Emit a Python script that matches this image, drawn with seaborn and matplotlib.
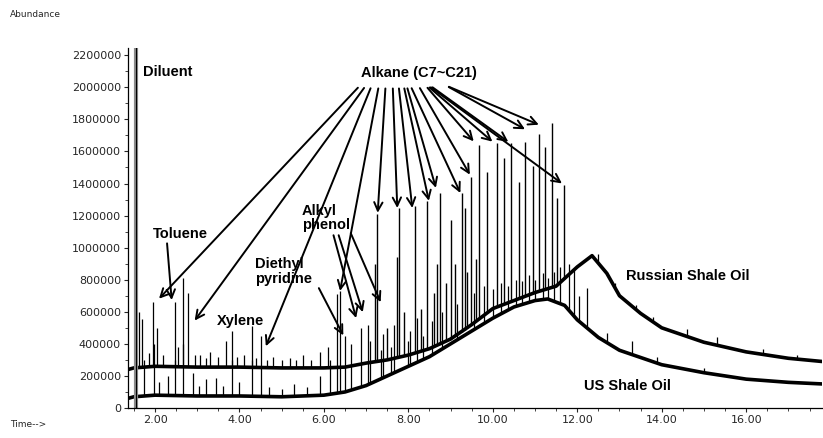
import numpy as np
import pandas as pd
import matplotlib
matplotlib.use("Agg")
import matplotlib.pyplot as plt
import seaborn as sns

# baselines (time in min, abundance)
russian_t = [1.36, 1.5, 2.0, 3.0, 4.0, 5.0, 6.0, 6.5, 7.0, 7.5, 8.0, 8.5, 9.0, 9.5, 10.0, 10.5,
             11.0, 11.5, 12.0, 12.35, 12.7, 13.0, 13.5, 14.0, 15.0, 16.0, 17.0, 17.8]
russian_v = [240000, 250000, 260000, 255000, 255000, 250000, 250000, 255000, 280000, 300000,
             330000, 370000, 430000, 520000, 620000, 670000, 720000, 760000, 880000, 950000,
             840000, 700000, 590000, 500000, 410000, 350000, 310000, 290000]

us_t = [1.36, 1.5, 2.0, 3.0, 4.0, 5.0, 6.0, 6.5, 7.0, 7.5, 8.0, 8.5, 9.0, 9.5, 10.0, 10.5,
        11.0, 11.3, 11.7, 12.0, 12.5, 13.0, 14.0, 15.0, 16.0, 17.0, 17.8]
us_v = [60000, 70000, 80000, 75000, 75000, 70000, 80000, 100000, 140000, 200000, 260000,
        320000, 400000, 480000, 560000, 630000, 670000, 680000, 640000, 550000, 440000,
        360000, 270000, 220000, 180000, 160000, 150000]

# peaks (retention time, apex abundance)
diluent_t = 1.55
diluent_v = 2300000

russian_peak_t = [1.63, 1.69, 1.85, 1.95, 2.05, 2.2, 2.47, 2.55, 2.66, 2.78, 2.95, 3.07, 3.2,
                  3.3, 3.5, 3.68, 3.82, 3.95, 4.1, 4.29, 4.4, 4.51, 4.65, 4.8, 5.0, 5.2, 5.35,
                  5.5, 5.7, 5.9, 6.1, 12.5, 12.9, 13.4, 13.8, 14.6, 15.3, 16.4, 17.2]
russian_peak_v = [600000, 556000, 340000, 660000, 500000, 330000, 660000, 380000, 810000,
                  720000, 330000, 330000, 310000, 350000, 320000, 420000, 480000, 320000,
                  330000, 510000, 310000, 450000, 300000, 320000, 300000, 310000, 300000,
                  330000, 300000, 350000, 380000, 960000, 780000, 640000, 570000, 490000,
                  440000, 370000, 330000]

us_peak_t = [1.75, 1.97, 2.1, 2.3, 2.47, 2.66, 2.9, 3.05, 3.2, 3.45, 3.6, 3.82, 4.0, 4.29,
             4.5, 4.7, 5.0, 5.3, 5.6, 5.9, 6.15, 6.3, 6.37, 6.5, 6.65, 6.89, 7.04, 7.35,
             7.6, 8.0, 8.35, 11.93, 12.05, 12.24, 12.7, 13.3, 13.9, 15.0]
us_peak_v = [300000, 400000, 160000, 200000, 300000, 400000, 220000, 140000, 180000, 190000,
             140000, 300000, 160000, 300000, 250000, 130000, 120000, 150000, 130000, 200000,
             300000, 710000, 730000, 450000, 400000, 500000, 520000, 360000, 380000, 420000,
             450000, 875000, 700000, 750000, 470000, 420000, 320000, 250000]

alkane_peak_t = [7.2, 7.25, 7.5, 7.74, 7.77, 7.9, 8.15, 8.3, 8.45, 8.6, 8.67, 8.74, 8.9, 9.02,
                 9.1, 9.26, 9.33, 9.4, 9.49, 9.6, 9.68, 9.87, 10.09, 10.27, 10.44, 10.61,
                 10.77, 10.94, 11.1, 11.24, 11.39, 11.53, 11.69]
alkane_peak_v = [900000, 1210000, 500000, 940000, 1250000, 600000, 1260000, 620000, 1290000,
                 720000, 900000, 1340000, 780000, 1170000, 900000, 1340000, 1250000, 850000,
                 1440000, 930000, 1640000, 1470000, 1650000, 1560000, 1650000, 1410000,
                 1660000, 1510000, 1710000, 1630000, 1780000, 1310000, 1390000]

# smaller spikes sitting on the hump
hump_peak_t = [7.1, 7.4, 7.65, 8.05, 8.2, 8.55, 8.8, 9.15, 9.55, 9.8, 10.0, 10.2, 10.35,
               10.55, 10.7, 10.85, 11.0, 11.18, 11.3, 11.45, 11.6, 11.8]
hump_peak_v = [420000, 460000, 520000, 480000, 560000, 540000, 600000, 650000, 720000,
               760000, 740000, 780000, 760000, 800000, 790000, 830000, 800000, 840000,
               810000, 850000, 880000, 900000]

# arrow tips and tails for the "Alkane (C7~C21)" label
alkane_tip_t = [2.05, 2.90, 4.60, 6.37, 7.27, 7.74, 8.10, 8.50, 8.67, 9.26, 9.49, 9.59, 10.04,
                10.42, 10.82, 11.15, 11.69]
alkane_tip_v = [669000, 531000, 369000, 713000, 1200000, 1230000, 1230000, 1275000, 1356000,
                1325000, 1440000, 1650000, 1650000, 1650000, 1730000, 1760000, 1390000]
alkane_tail_t = [6.85, 6.99, 7.13, 7.30, 7.46, 7.63, 7.77, 7.89, 7.96, 8.05, 8.24, 8.41, 8.45,
                 8.52, 8.90, 8.90, 8.48]
alkane_tail_v = 2010000

russian = pd.DataFrame({"Time": russian_t, "Abundance": russian_v})
us = pd.DataFrame({"Time": us_t, "Abundance": us_v})

sns.set_style("ticks")
plt.rcParams["font.family"] = ["DejaVu Sans"]

fig = plt.figure(figsize=(8.23, 4.38), dpi=100)
ax = fig.add_axes([0.1555, 0.0685, 0.8435, 0.8215])

sns.lineplot(data=russian, x="Time", y="Abundance", ax=ax, color="black", lw=2.6)
sns.lineplot(data=us, x="Time", y="Abundance", ax=ax, color="black", lw=2.6)

# peaks drawn as sticks standing on their own baseline
ax.vlines(russian_peak_t, np.interp(russian_peak_t, russian_t, russian_v), russian_peak_v,
          color="black", lw=0.9)
ax.vlines(us_peak_t, np.interp(us_peak_t, us_t, us_v), us_peak_v, color="black", lw=0.9)
ax.vlines(hump_peak_t, np.interp(hump_peak_t, us_t, us_v), hump_peak_v, color="black", lw=0.9)
ax.vlines(alkane_peak_t, np.interp(alkane_peak_t, russian_t, russian_v), alkane_peak_v,
          color="black", lw=1.0)
ax.vlines([diluent_t], [0], [diluent_v], color="0.55", lw=3)
ax.vlines([diluent_t], [0], [diluent_v], color="black", lw=0.8)

ax.set_xlim(1.36, 17.8)
ax.set_ylim(0, 2244000)
ax.set_xticks([2, 4, 6, 8, 10, 12, 14, 16])
ax.set_xticks(np.arange(1.5, 18, 0.5), minor=True)
ax.set_yticks(range(0, 2200001, 200000))
ax.set_yticks(range(0, 2200001, 100000), minor=True)
ax.set_xticklabels(["%.2f" % t for t in ax.get_xticks()])
ax.set_yticklabels([str(int(v)) for v in ax.get_yticks()])
ax.tick_params(axis="both", labelsize=8, length=3, width=0.8, pad=2)
ax.tick_params(axis="both", which="minor", length=2, width=0.6)
ax.set_xlabel("")
ax.set_ylabel("")
sns.despine(ax=ax)
for s in ["left", "bottom"]:
    ax.spines[s].set_linewidth(0.9)
    ax.spines[s].set_color("black")

bold = dict(fontsize=10.5, fontweight="bold", family="Liberation Sans", color="black")
arrow = dict(arrowstyle="->,head_length=0.6,head_width=0.3", color="black", lw=1.4)

ax.text(1.72, 2094000, "Diluent", ha="left", va="center", **bold)
ax.text(8.24, 2087000, "Alkane (C7~C21)", ha="center", va="center", **bold)
ax.text(2.59, 1087000, "Toluene", ha="center", va="center", **bold)
ax.text(4.03, 544000, "Xylene", ha="center", va="center", **bold)
ax.text(4.36, 850000, "Diethyl\npyridine", ha="left", va="center", linespacing=1.05, **bold)
ax.text(5.48, 1184000, "Alkyl\nphenol", ha="left", va="center", linespacing=1.05, **bold)
ax.text(13.16, 825000, "Russian Shale Oil", ha="left", va="center", **bold)
ax.text(12.17, 137500, "US Shale Oil", ha="left", va="center", **bold)

for tt, tv, st in zip(alkane_tip_t, alkane_tip_v, alkane_tail_t):
    ax.annotate("", xy=(tt, tv), xytext=(st, alkane_tail_v), arrowprops=arrow)

ax.annotate("", xy=(2.40, 656000), xytext=(2.28, 1044000), arrowprops=arrow)
ax.annotate("", xy=(6.49, 437500), xytext=(5.85, 763000), arrowprops=arrow)
for tip, tail in [((6.78, 544000), (6.21, 1094000)),
                  ((6.94, 581000), (6.33, 1094000)),
                  ((7.37, 644000), (6.61, 1106000))]:
    ax.annotate("", xy=tip, xytext=tail, arrowprops=arrow)

fig.text(0.012, 0.968, "Abundance", fontsize=6.5, ha="left", va="center")
fig.text(0.012, 0.030, "Time-->", fontsize=6.5, ha="left", va="center")

fig.savefig("out.png", dpi=100)
